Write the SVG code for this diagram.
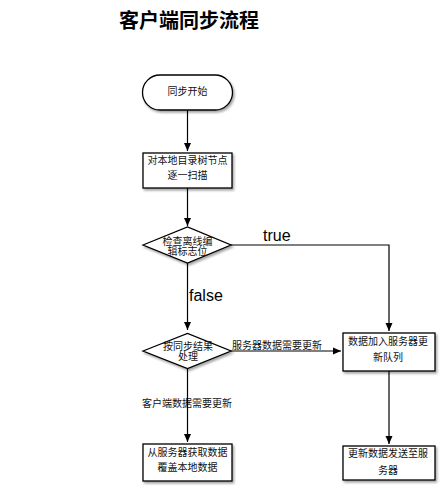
<svg xmlns="http://www.w3.org/2000/svg" width="448" height="496" viewBox="0 0 448 496">
<style>
.title{font-family:"Noto Sans CJK SC",sans-serif;font-weight:bold;font-size:20px;fill:#000;text-anchor:middle}
.t{font-family:"Liberation Sans","Noto Sans CJK SC",sans-serif;font-size:10px;fill:#111;text-anchor:middle}
.lbl{font-family:"Liberation Sans",sans-serif;font-size:16px;fill:#000}
.shape{fill:#fff;stroke:#000;stroke-width:1.3;filter:url(#sh)}
.conn{fill:none;stroke:#000;stroke-width:1.2}
</style>
<defs>
<filter id="sh" x="-10%" y="-10%" width="130%" height="140%">
<feDropShadow dx="1.5" dy="2" stdDeviation="1" flood-color="#000" flood-opacity="0.35"/>
</filter>
<marker id="ah" markerUnits="userSpaceOnUse" markerWidth="10" markerHeight="10" viewBox="0 0 10 10" refX="8" refY="4" orient="auto">
<path d="M0,0.5 L8,4 L0,7.5 Z" fill="#000"/>
</marker>
</defs>
<rect width="448" height="496" fill="#fff"/>
<text class="title" x="189" y="28">客户端同步流程</text>

<g id="connectors">
<line class="conn" x1="187.5" y1="110" x2="187.5" y2="151" marker-end="url(#ah)"/>
<line class="conn" x1="187.5" y1="188" x2="187.5" y2="226" marker-end="url(#ah)"/>
<polyline class="conn" points="231,245 389,245 389,331" marker-end="url(#ah)"/>
<line class="conn" x1="187.5" y1="263" x2="187.5" y2="330" marker-end="url(#ah)"/>
<line class="conn" x1="231" y1="351" x2="341" y2="351" marker-end="url(#ah)"/>
<text class="t" x="277" y="348.5">服务器数据需要更新</text>
<text class="t" x="187" y="407">客户端数据需要更新</text>
<line class="conn" x1="187.5" y1="368.5" x2="187.5" y2="442" marker-end="url(#ah)"/>
<line class="conn" x1="389" y1="371" x2="389" y2="444" marker-end="url(#ah)"/>
<text class="lbl" x="263" y="241">true</text>
<text class="lbl" x="189" y="301">false</text>
</g>

<g id="start">
<rect class="shape" x="142.5" y="75" width="90" height="35" rx="17.5"/>
<text class="t" x="187.5" y="95">同步开始</text>
</g>
<g id="scan">
<rect class="shape" x="143" y="153" width="89" height="35"/>
<text class="t" x="187.5" y="163.5">对本地目录树节点</text>
<text class="t" x="187.5" y="178.5">逐一扫描</text>
</g>
<g id="check">
<polygon class="shape" points="143,245 187.5,227 231,245 187.5,263"/>
<text class="t" x="187.5" y="244.5">检查离线编</text>
<text class="t" x="187.5" y="254.5">辑标志位</text>
</g>
<g id="handle">
<polygon class="shape" points="143,351 187.5,333.5 231,351 187.5,368.5"/>
<text class="t" x="188" y="349.5">按同步结果</text>
<text class="t" x="188" y="359.5">处理</text>
</g>
<g id="queue">
<rect class="shape" x="343" y="333" width="92" height="38"/>
<text class="t" x="388" y="345.2">数据加入服务器更</text>
<text class="t" x="388" y="360.8">新队列</text>
</g>
<g id="fetch">
<rect class="shape" x="143" y="444" width="89" height="37"/>
<text class="t" x="187.5" y="455.8">从服务器获取数据</text>
<text class="t" x="187.5" y="470.8">覆盖本地数据</text>
</g>
<g id="send">
<rect class="shape" x="343" y="446" width="92" height="34"/>
<text class="t" x="388" y="456.8">更新数据发送至服</text>
<text class="t" x="388" y="473.5">务器</text>
</g>
</svg>
